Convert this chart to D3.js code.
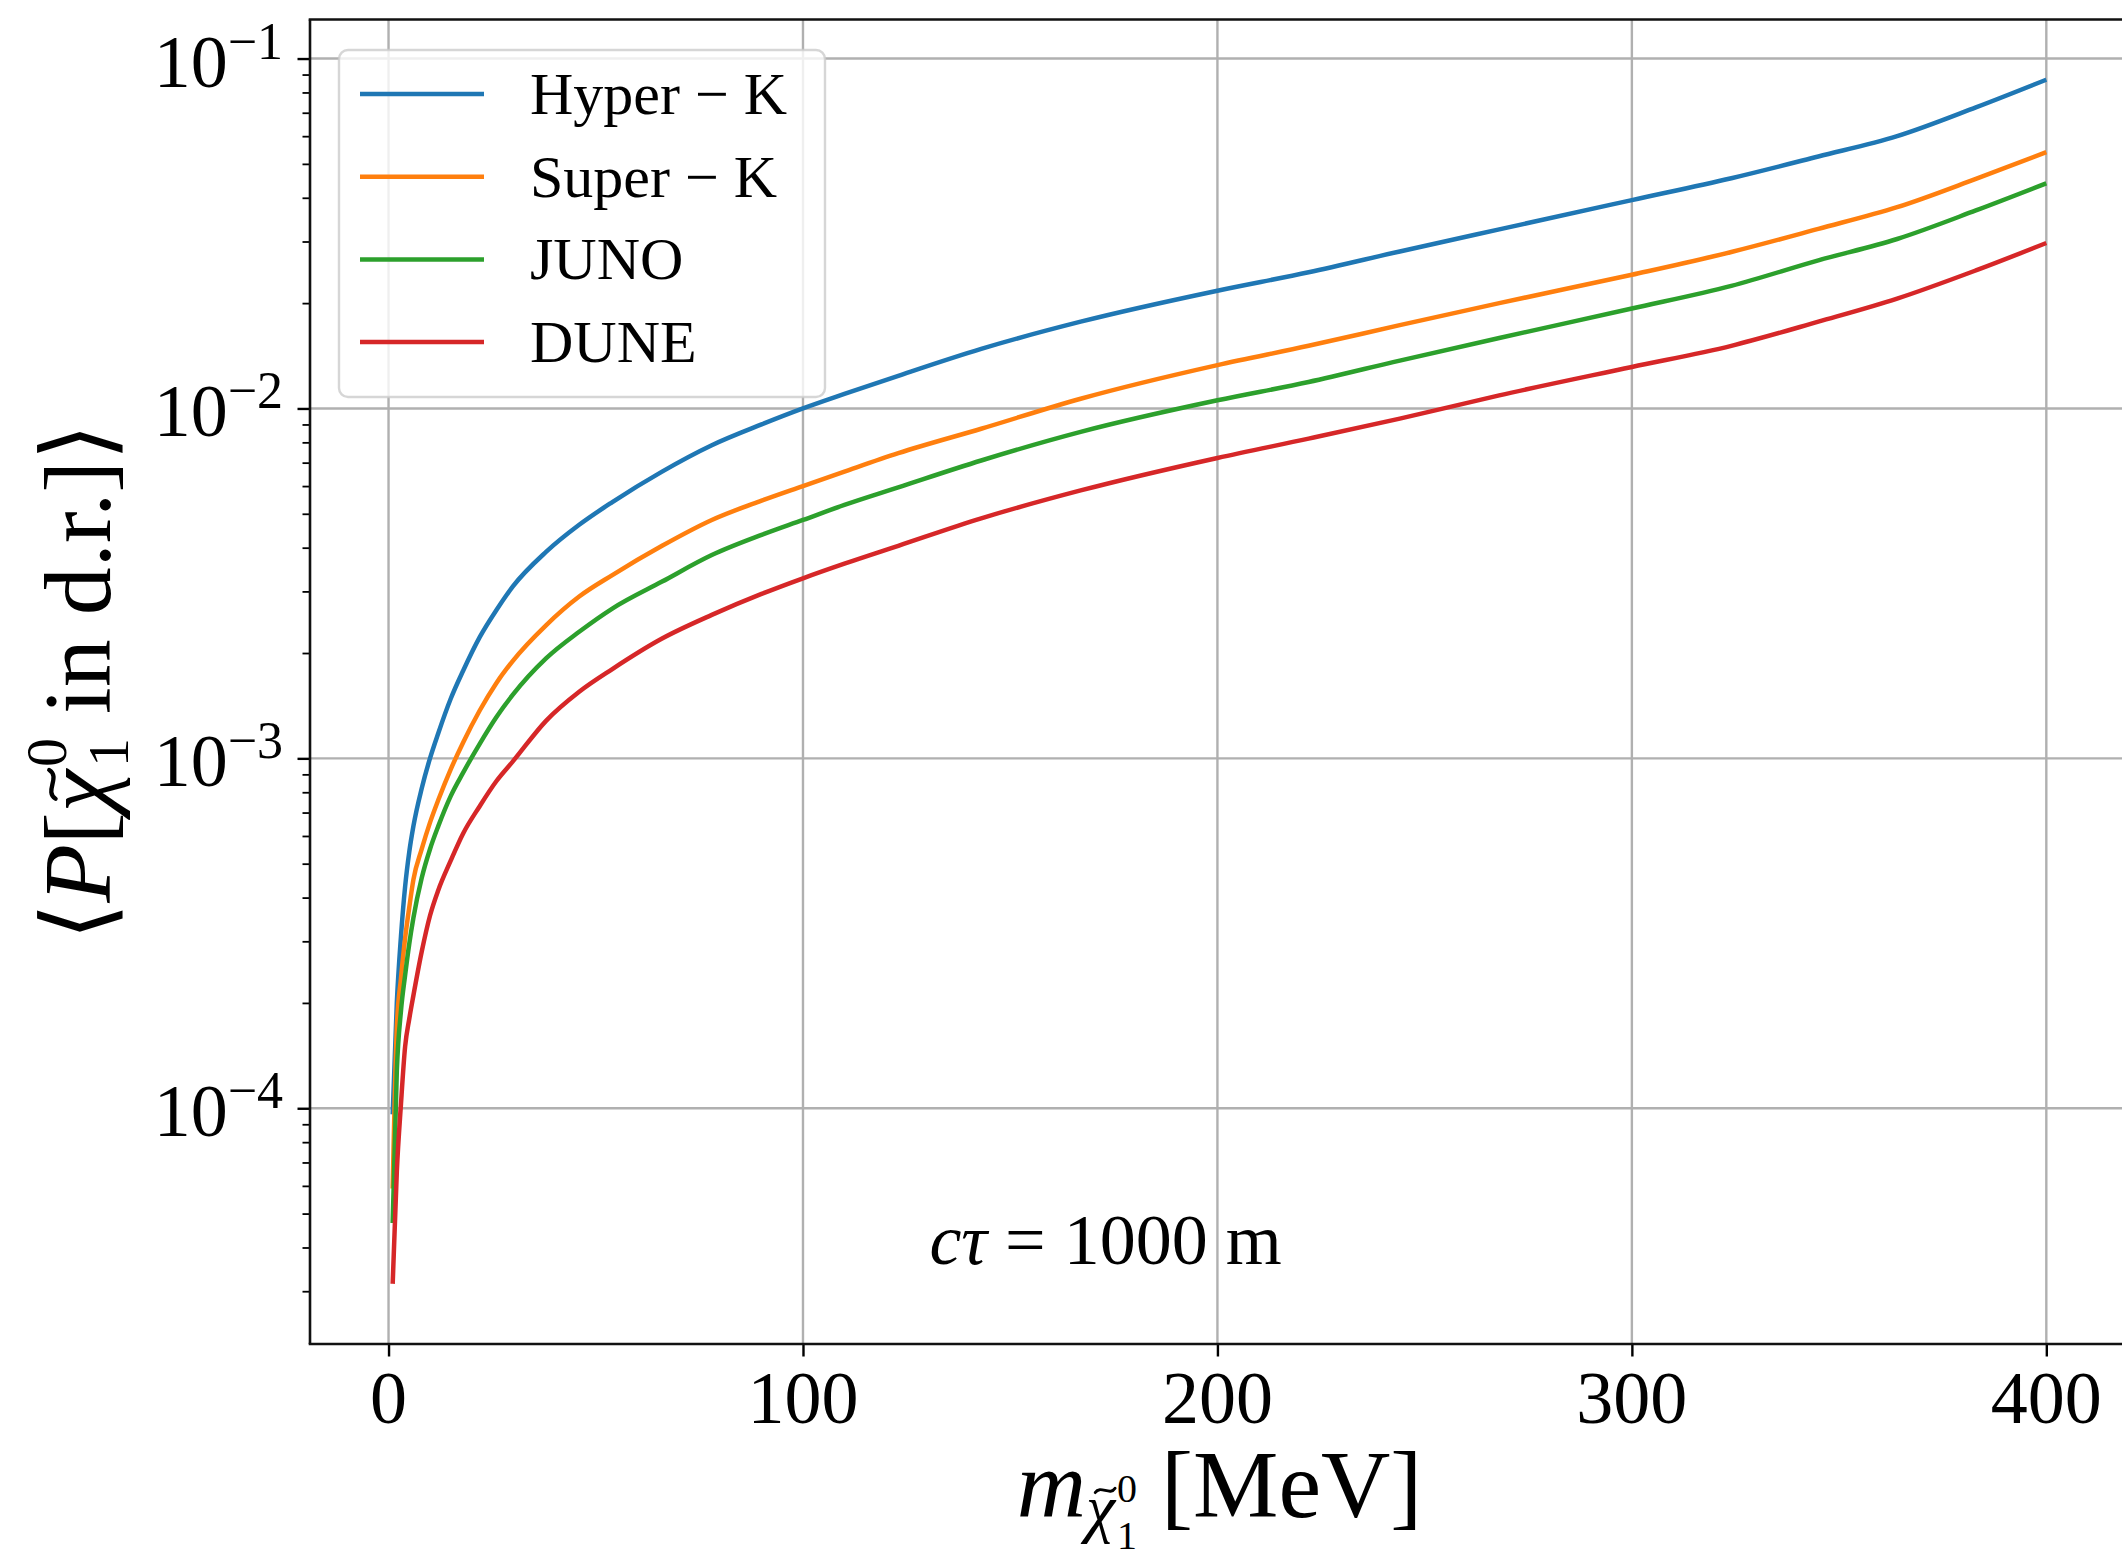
<!DOCTYPE html>
<html>
<head>
<meta charset="utf-8">
<script src="https://cdn.jsdelivr.net/npm/d3@7"></script>
<style>
  html, body { margin: 0; padding: 0; background: #ffffff; }
  svg { display: block; }
  text { font-family: "Liberation Serif", "DejaVu Serif", serif; fill: #000; }
</style>
</head>
<body>
<svg id="chart"></svg>
<script>
// Neutralino mass (MeV) at which the decay-region probability was sampled
const massMeV = [1, 2, 3, 4, 5, 6, 8, 10, 12, 15, 18, 22, 26, 30, 38, 46, 54, 66, 78, 90,
                 100, 110, 123, 143, 167, 200, 222, 244, 268, 300, 324, 345, 364, 383, 400];

// <P[chi in d.r.]> for c*tau = 1000 m, one array per detector
const hyperK = [9.6e-5, 2.0e-4, 3.1e-4, 4.3e-4, 5.4e-4, 6.4e-4, 8.2e-4, 1.0e-3, 1.18e-3, 1.48e-3,
                1.78e-3, 2.22e-3, 2.65e-3, 3.1e-3, 3.89e-3, 4.65e-3, 5.4e-3, 6.6e-3, 7.85e-3, 9.0e-3,
                1.0e-2, 1.1e-2, 1.24e-2, 1.48e-2, 1.77e-2, 2.17e-2, 2.45e-2, 2.81e-2, 3.25e-2, 3.94e-2,
                4.55e-2, 5.25e-2, 6.0e-2, 7.25e-2, 8.7e-2];
const superK = [5.9e-5, 1.7e-4, 2.35e-4, 3.06e-4, 3.75e-4, 4.5e-4, 5.5e-4, 6.55e-4, 7.6e-4, 9.3e-4,
                1.11e-3, 1.37e-3, 1.64e-3, 1.9e-3, 2.4e-3, 2.9e-3, 3.34e-3, 4.05e-3, 4.8e-3, 5.45e-3,
                6.0e-3, 6.6e-3, 7.45e-3, 8.75e-3, 1.066e-2, 1.33e-2, 1.51e-2, 1.73e-2, 2.0e-2, 2.41e-2,
                2.8e-2, 3.26e-2, 3.76e-2, 4.53e-2, 5.4e-2];
const juno   = [4.7e-5, 1.28e-4, 1.9e-4, 2.4e-4, 2.95e-4, 3.5e-4, 4.55e-4, 5.5e-4, 6.4e-4, 7.8e-4,
                9.1e-4, 1.1e-3, 1.31e-3, 1.52e-3, 1.93e-3, 2.3e-3, 2.68e-3, 3.2e-3, 3.81e-3, 4.35e-3,
                4.8e-3, 5.3e-3, 5.95e-3, 7.1e-3, 8.57e-3, 1.055e-2, 1.19e-2, 1.37e-2, 1.59e-2, 1.93e-2,
                2.24e-2, 2.65e-2, 3.05e-2, 3.68e-2, 4.4e-2];
const dune   = [3.15e-5, 6.6e-5, 1.03e-4, 1.5e-4, 1.8e-4, 2.1e-4, 2.8e-4, 3.55e-4, 4.2e-4, 5.1e-4,
                6.1e-4, 7.3e-4, 8.6e-4, 9.8e-4, 1.28e-3, 1.55e-3, 1.8e-3, 2.2e-3, 2.57e-3, 2.95e-3,
                3.27e-3, 3.6e-3, 4.05e-3, 4.85e-3, 5.83e-3, 7.22e-3, 8.2e-3, 9.35e-3, 1.09e-2, 1.314e-2,
                1.51e-2, 1.77e-2, 2.06e-2, 2.48e-2, 2.97e-2];

const seriesNames  = ["Hyper \u2212 K", "Super \u2212 K", "JUNO", "DUNE"];
const seriesColors = ["#1f77b4", "#ff7f0e", "#2ca02c", "#d62728"];

const xTickValues    = [0, 100, 200, 300, 400];
const yTickExponents = [-1, -2, -3, -4];
const annotationMass = 130.5, annotationProb = 3.6e-5;

// ---------------------------------------------------------------------------
const W = 2122, H = 1559;
const plot = { left: 310, right: 2129, top: 19.5, bottom: 1344 };
const FONT_TICK = 74, FONT_LABEL = 96, FONT_LEGEND = 60, FONT_NOTE = 72;

const svg = d3.select("#chart").attr("width", W).attr("height", H)
  .attr("viewBox", `0 0 ${W} ${H}`);

const series = [hyperK, superK, juno, dune].map((vals, i) => ({
  name: seriesNames[i], color: seriesColors[i],
  points: massMeV.map((m, j) => ({ m, p: vals[j] }))
}));

// axis limits padded by 5% of the data span (log space on y)
const [mLo, mHi] = d3.extent(massMeV);
const mPad = 0.05 * (mHi - mLo);
const x = d3.scaleLinear().domain([mLo - mPad, mHi + mPad]).range([plot.left, plot.right]);

const logExt = d3.extent([hyperK, superK, juno, dune].flat()).map(Math.log10);
const lPad = 0.05 * (logExt[1] - logExt[0]);
const y = d3.scaleLog()
  .domain([Math.pow(10, logExt[0] - lPad), Math.pow(10, logExt[1] + lPad)])
  .range([plot.bottom, plot.top]);

// grid
const grid = svg.append("g").attr("stroke", "#b0b0b0").attr("stroke-width", 2.4);
grid.selectAll("line.gx").data(xTickValues).join("line").attr("class", "gx")
  .attr("x1", d => x(d)).attr("x2", d => x(d))
  .attr("y1", plot.top).attr("y2", plot.bottom);
grid.selectAll("line.gy").data(yTickExponents).join("line").attr("class", "gy")
  .attr("x1", plot.left).attr("x2", plot.right)
  .attr("y1", d => y(Math.pow(10, d))).attr("y2", d => y(Math.pow(10, d)));

// curves
svg.append("clipPath").attr("id", "plotClip").append("rect")
  .attr("x", plot.left).attr("y", plot.top)
  .attr("width", plot.right - plot.left).attr("height", plot.bottom - plot.top);

const line = d3.line().x(d => x(d.m)).y(d => y(d.p)).curve(d3.curveMonotoneX);
svg.append("g").attr("clip-path", "url(#plotClip)")
  .selectAll("path").data(series).join("path")
  .attr("d", d => line(d.points))
  .attr("fill", "none")
  .attr("stroke", d => d.color)
  .attr("stroke-width", 4.5)
  .attr("stroke-linejoin", "round")
  .attr("stroke-linecap", "butt");

// annotation
const note = svg.append("text")
  .attr("x", x(annotationMass)).attr("y", y(annotationProb))
  .attr("font-size", FONT_NOTE);
note.append("tspan").attr("font-style", "italic").text("c\u03c4");
note.append("tspan").text(" = 1000 m");

// legend
const legend = svg.append("g");
const lg = { x: 339, y: 50, w: 486, h: 347, row: 82.7, firstRow: 94 };
legend.append("rect")
  .attr("x", lg.x).attr("y", lg.y).attr("width", lg.w).attr("height", lg.h)
  .attr("rx", 9).attr("ry", 9)
  .attr("fill", "#ffffff").attr("fill-opacity", 0.8)
  .attr("stroke", "#cccccc").attr("stroke-opacity", 0.8).attr("stroke-width", 2.4);
const rows = legend.selectAll("g.row").data(series).join("g").attr("class", "row")
  .attr("transform", (d, i) => `translate(0,${lg.firstRow + i * lg.row})`);
rows.append("line")
  .attr("x1", 360).attr("x2", 484).attr("y1", 0).attr("y2", 0)
  .attr("stroke", d => d.color).attr("stroke-width", 4.5);
rows.append("text")
  .attr("x", 530).attr("y", 20)
  .attr("font-size", FONT_LEGEND)
  .text(d => d.name);

// axes: ticks via d3 axis generators
const xAxis = svg.append("g").attr("transform", `translate(0,${plot.bottom})`)
  .call(d3.axisBottom(x).tickValues(xTickValues).tickSize(12.5).tickFormat(""));
xAxis.select(".domain").remove();
xAxis.selectAll(".tick line").attr("stroke", "#000").attr("stroke-width", 2.4);

const [dLo, dHi] = y.domain();
const minorVals = [];
for (let e = Math.floor(Math.log10(dLo)); e <= Math.ceil(Math.log10(dHi)); e++) {
  for (let k = 2; k <= 9; k++) {
    const v = k * Math.pow(10, e);
    if (v >= dLo && v <= dHi) minorVals.push(v);
  }
}
const yMinor = svg.append("g").attr("transform", `translate(${plot.left},0)`)
  .call(d3.axisLeft(y).tickValues(minorVals).tickSize(7.5).tickFormat(""));
yMinor.select(".domain").remove();
yMinor.selectAll(".tick line").attr("stroke", "#000").attr("stroke-width", 1.8);

const yMajor = svg.append("g").attr("transform", `translate(${plot.left},0)`)
  .call(d3.axisLeft(y).tickValues(yTickExponents.map(e => Math.pow(10, e))).tickSize(12.5).tickFormat(""));
yMajor.select(".domain").remove();
yMajor.selectAll(".tick line").attr("stroke", "#000").attr("stroke-width", 2.4);

// tick labels
svg.append("g").selectAll("text").data(xTickValues).join("text")
  .attr("x", d => x(d)).attr("y", 1423)
  .attr("text-anchor", "middle").attr("font-size", FONT_TICK)
  .text(d => d);

const yLab = svg.append("g").selectAll("text").data(yTickExponents).join("text")
  .attr("x", 283).attr("y", d => y(Math.pow(10, d)) + 28)
  .attr("text-anchor", "end").attr("font-size", FONT_TICK);
yLab.append("tspan").text("10");
yLab.append("tspan").attr("font-size", 52).attr("dy", -28).text(d => "\u2212" + Math.abs(d));

// spines
const spines = svg.append("g").attr("stroke", "#111").attr("stroke-width", 2.6).attr("fill", "none");
spines.append("line").attr("x1", plot.left).attr("x2", plot.left).attr("y1", plot.top).attr("y2", plot.bottom);
spines.append("line").attr("x1", plot.left - 1.3).attr("x2", plot.right).attr("y1", plot.bottom).attr("y2", plot.bottom);
spines.append("line").attr("x1", plot.left - 1.3).attr("x2", plot.right).attr("y1", plot.top).attr("y2", plot.top);
spines.append("line").attr("x1", plot.right).attr("x2", plot.right).attr("y1", plot.top).attr("y2", plot.bottom);

// draws a tilde accent (as a small wave stroke) above one character of a text element
function addTilde(group, textNode, charIndex, size) {
  const s = textNode.getStartPositionOfChar(charIndex);
  const e = textNode.getEndPositionOfChar(charIndex);
  const cxT = (s.x + e.x) / 2 + 0.07 * size;
  const cyT = s.y - 0.6 * size;
  const w = 0.3 * size, h = 0.055 * size;
  group.append("path")
    .attr("d", `M${cxT - w / 2},${cyT + h * 0.6} C${cxT - w / 4},${cyT - h * 1.6} ${cxT + w / 4},${cyT + h * 1.6} ${cxT + w / 2},${cyT - h * 0.6}`)
    .attr("fill", "none").attr("stroke", "#000")
    .attr("stroke-width", 0.045 * size).attr("stroke-linecap", "round");
}

// x axis label: m_{chi~^0_1} [MeV]
const cx = (plot.left + plot.right) / 2;
const xlG = svg.append("g");
const xl = xlG.append("text").attr("x", cx).attr("y", 1517)
  .attr("text-anchor", "middle").attr("font-size", FONT_LABEL);
xl.append("tspan").attr("font-style", "italic").text("m");
xl.append("tspan").attr("font-style", "italic").attr("font-size", 66).attr("dy", 13).text("\u03c7");
xl.append("tspan").attr("font-size", 40).attr("dx", 2).attr("dy", -28).text("0");
xl.append("tspan").attr("font-size", 40).attr("dx", -20).attr("dy", 47).text("1");
xl.append("tspan").attr("dy", -32).text(" [MeV]");
addTilde(xlG, xl.node(), 1, 66);

// y axis label: <P[chi~^0_1 in d.r.]>
const cy = (plot.top + plot.bottom) / 2;
const ylG = svg.append("g").attr("transform", `translate(110,${cy}) rotate(-90)`);
const yl = ylG.append("text")
  .attr("x", 0).attr("y", 0)
  .attr("text-anchor", "middle").attr("font-size", FONT_LABEL);
yl.append("tspan").text("\u27e8");
yl.append("tspan").attr("font-style", "italic").text("P");
yl.append("tspan").text("[");
yl.append("tspan").attr("font-style", "italic").text("\u03c7");
yl.append("tspan").attr("font-size", 58).attr("dx", 3).attr("dy", -44).text("0");
yl.append("tspan").attr("font-size", 58).attr("dx", -29).attr("dy", 62).text("1");
yl.append("tspan").attr("dy", -18).text(" in d.r.]");
yl.append("tspan").text("\u27e9");
addTilde(ylG, yl.node(), 3, FONT_LABEL);
</script>
</body>
</html>
